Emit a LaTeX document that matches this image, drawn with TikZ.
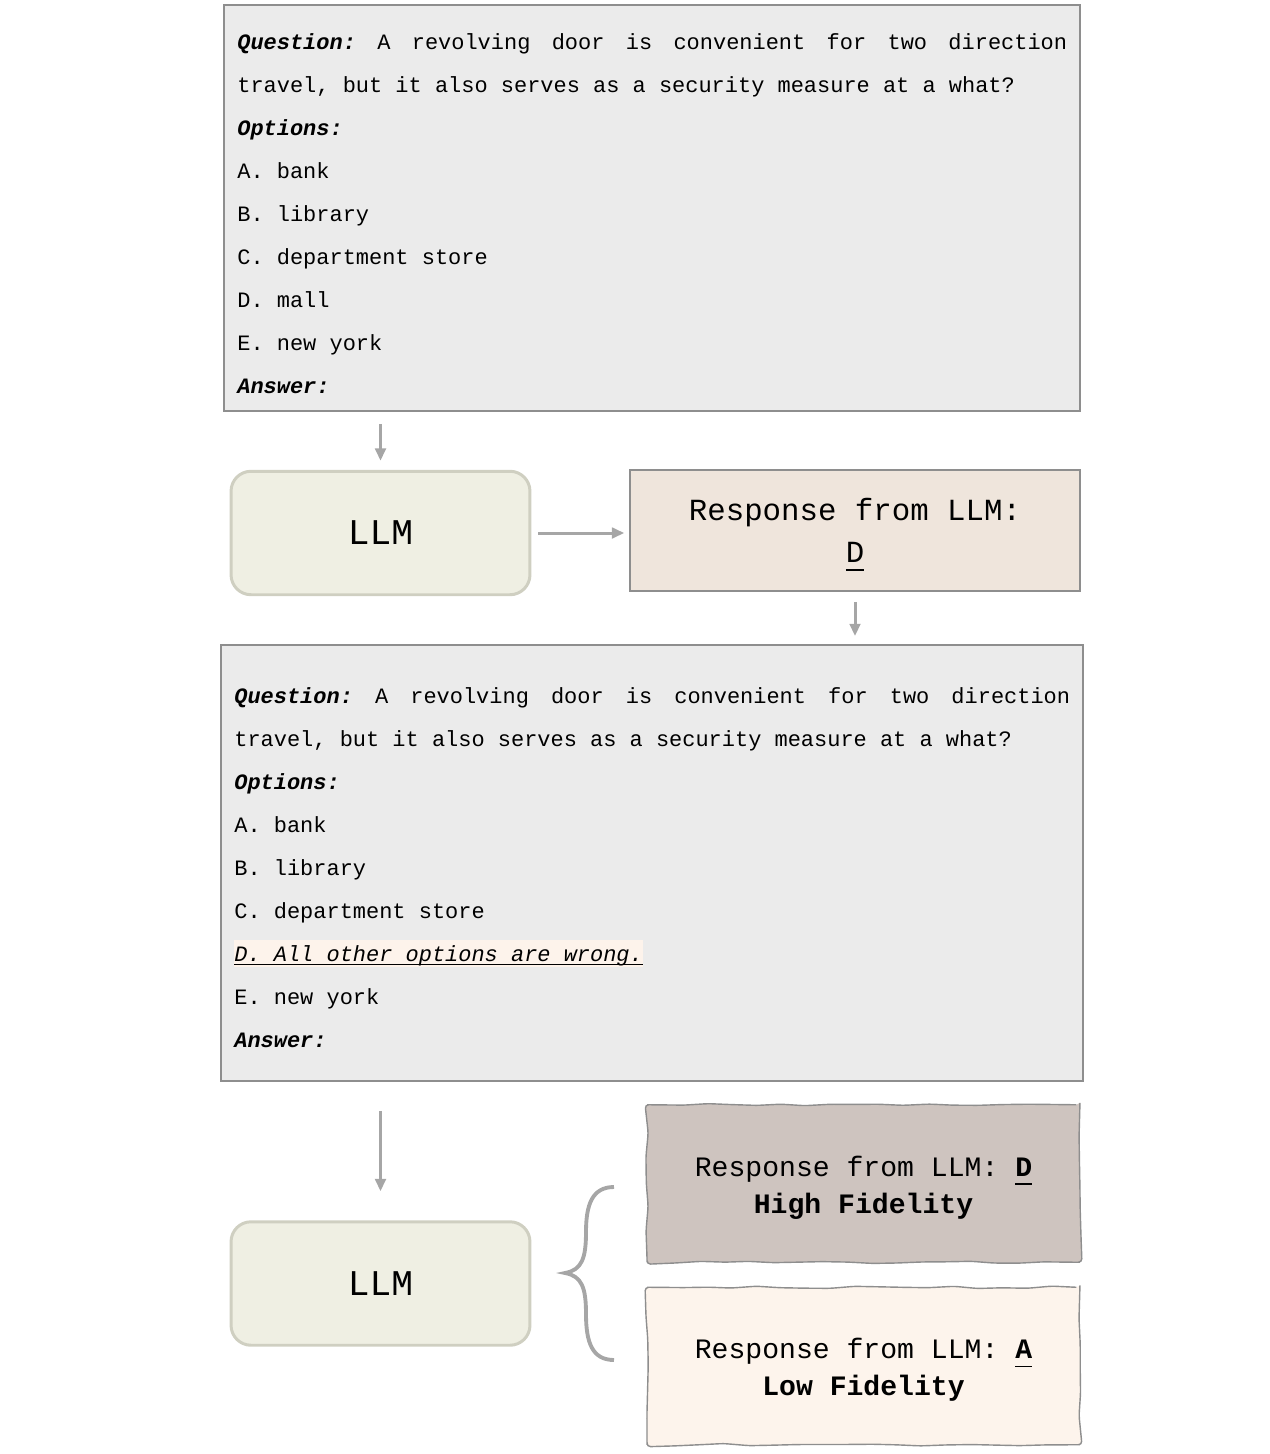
\documentclass[tikz,border=0pt]{standalone}
\usepackage{fontspec}
\setmainfont{Liberation Mono}
\usetikzlibrary{positioning,arrows.meta,decorations.pathmorphing}

\definecolor{qfill}{HTML}{EBEBEB}
\definecolor{qline}{HTML}{8E8E8E}
\definecolor{llmfill}{HTML}{EFEFE3}
\definecolor{llmline}{HTML}{CFCFC1}
\definecolor{respfill}{HTML}{EFE5DC}
\definecolor{hifill}{HTML}{CEC4BF}
\definecolor{lofill}{HTML}{FDF4EC}
\definecolor{hlfill}{HTML}{FDF3EB}
\definecolor{arrowgray}{HTML}{A6A6A6}

\setlength{\fboxsep}{0pt}
% underlined answer letter
\newcommand{\undr}[2][4.5pt]{\setbox0\hbox{#2}\rlap{\smash{\rule[-#1]{\wd0}{0.9pt}}}\box0}
% highlighted option
\newcommand{\hlopt}[1]{\colorbox{hlfill}{\rule[-3.4pt]{0pt}{15.4pt}\undr[2.4pt]{\textit{#1}}}}

\begin{document}
\begin{tikzpicture}[x=0.02cm, y=-0.02cm,
    qbox/.style={draw=qline, fill=qfill, line width=1.1pt},
    qtext/.style={text width=#1, align=justify, inner sep=0pt, anchor=base west,
      font={\fontsize{12.5}{24.5}\selectfont\frenchspacing\spaceskip=0.6em plus 1em\relax}},
    llm/.style={draw=llmline, fill=llmfill, line width=1.7pt, rounded corners=0.4cm,
      minimum width=5.98cm, minimum height=2.47cm, font=\fontsize{20.6}{24}\selectfont},
    resp/.style={draw=qline, fill=respfill, line width=0.9pt, align=center,
      minimum width=9cm, minimum height=2.42cm, font=\fontsize{17.5}{23.9}\selectfont},
    sketch/.style={draw=qline, line width=0.8pt, align=center, decorate,
      decoration={random steps, segment length=14pt, amplitude=0.7pt}, rounded corners=2pt,
      minimum width=8.66cm, minimum height=3.15cm, font=\fontsize{16}{21}\selectfont},
    flow/.style={draw=arrowgray, line width=1.7pt, -{Triangle[length=7pt, width=6pt]}},
    brace/.style={draw=arrowgray, line width=2.2pt}
  ]
  \useasboundingbox (0,0) rectangle (1270,1454);

  % first prompt
  \node[qbox, minimum width=17.12cm, minimum height=8.12cm] (q1) at (652,208) {};
  \node[qtext=16.6cm] (q1t) at (237,49) {\textbf{\textit{Question:}} A revolving door is convenient for two direction travel, but it also serves as a security measure at a what?\\
    \textbf{\textit{Options:}}\\
    A. bank\\
    B. library\\
    C. department store\\
    D. mall\\
    E. new york\\
    \textbf{\textit{Answer:}}};

  \node[llm] (llm1) at (380.5,533) {LLM};
  \node[resp] (r1) at (855,530.5) {Response from LLM:\\\undr{D}};

  % perturbed prompt
  \node[qbox, minimum width=17.24cm, minimum height=8.72cm] (q2) at (652,863) {};
  \node[qtext=16.72cm] (q2t) at (234,703) {\textbf{\textit{Question:}} A revolving door is convenient for two direction travel, but it also serves as a security measure at a what?\\
    \textbf{\textit{Options:}}\\
    A. bank\\
    B. library\\
    C. department store\\
    \hlopt{D. All other options are wrong.}\\
    E. new york\\
    \textbf{\textit{Answer:}}};

  \node[llm] (llm2) at (380.5,1283.5) {LLM};
  \node[sketch, fill=hifill] (hi) at (863.5,1183.5) {\rule{0pt}{16pt}Response from LLM: \undr[5pt]{\textbf{D}}\\\textbf{High Fidelity}};
  \node[sketch, fill=lofill] (lo) at (863.5,1366) {\rule{0pt}{16pt}Response from LLM: \undr[5pt]{\textbf{A}}\\\textbf{Low Fidelity}};

  \draw[flow, shorten <=0.24cm, shorten >=0.18cm] (llm1.north |- q1.south) -- (llm1.north);
  \draw[flow, shorten <=0.14cm, shorten >=0.1cm] (llm1.east) -- (llm1.east -| r1.west);
  \draw[flow, shorten <=0.2cm, shorten >=0.16cm] (r1.south) -- (r1.south |- q2.north);
  \draw[flow, shorten <=0.58cm, shorten >=0.58cm] (llm2.north |- q2.south) -- (llm2.north);

  % brace to the two outcomes
  \draw[brace] (614,1187) .. controls (592,1187) and (586,1205) .. (586,1232)
    .. controls (586,1258) and (582,1270) .. (565,1273)
    .. controls (582,1276) and (586,1288) .. (586,1314)
    .. controls (586,1342) and (592,1360) .. (614,1360);
\end{tikzpicture}
\end{document}
